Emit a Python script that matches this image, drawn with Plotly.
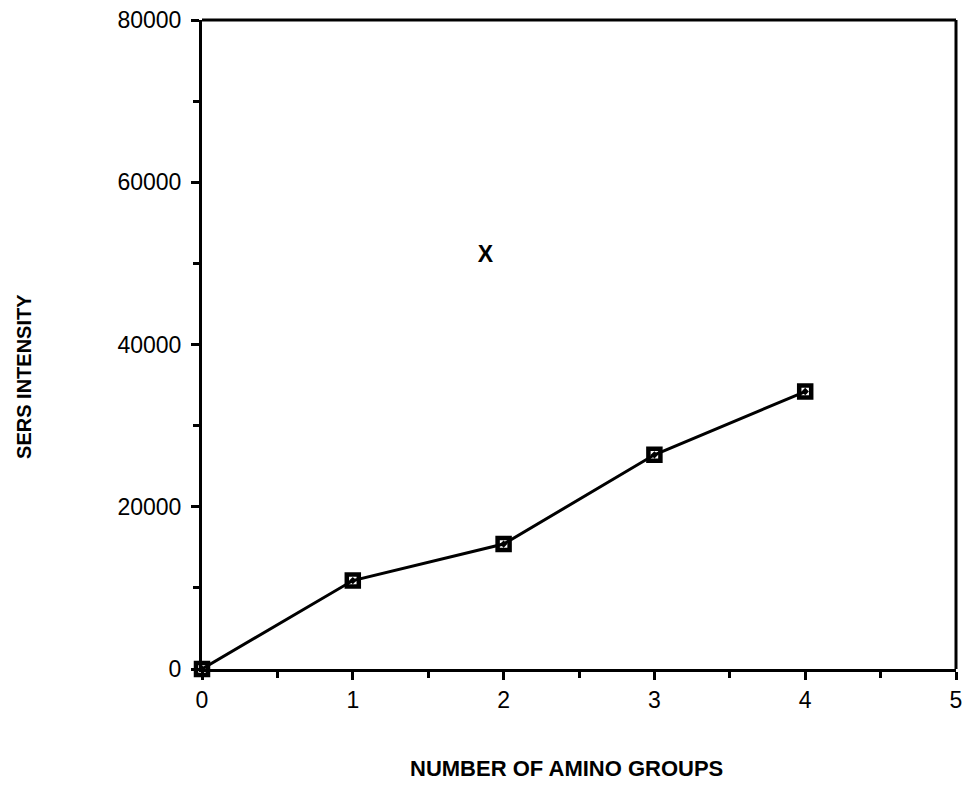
import plotly.graph_objects as go

amino_groups = [0, 1, 2, 3, 4]
sers_intensity = [0, 10900, 15400, 26400, 34200]
outlier_x = [1.88]
outlier_y = [50900]
outlier_label = ["X"]

x_ticks = [0, 1, 2, 3, 4, 5]
y_ticks = [0, 20000, 40000, 60000, 80000]
y_ticktext = ["0", "20000", "40000", "60000", "80000"]

fig = go.Figure()
fig.add_trace(go.Scatter(
    x=amino_groups, y=sers_intensity, mode="lines+markers",
    line=dict(color="black", width=3),
    marker=dict(symbol="square-open-dot", size=12, color="black", line=dict(width=4.5, color="black")),
    showlegend=False, cliponaxis=False,
))
fig.add_trace(go.Scatter(
    x=outlier_x, y=outlier_y, mode="text", text=outlier_label,
    textfont=dict(family="Liberation Sans, Arial", size=23, color="black"),
    texttemplate="<b>%{text}</b>", showlegend=False,
))

axis_font = dict(family="Liberation Sans, Arial", size=23, color="black")
fig.update_xaxes(
    range=[0, 5], tickvals=x_ticks, ticks="outside", ticklen=8, tickwidth=2.5,
    tickcolor="black", showline=True, linecolor="black", linewidth=3, mirror=False,
    showgrid=False, zeroline=False, tickfont=axis_font, ticklabelstandoff=0,
    minor=dict(tickvals=[0.5, 1.5, 2.5, 3.5, 4.5], ticks="outside", ticklen=6, tickwidth=2.5, tickcolor="black"),
)
fig.update_yaxes(
    range=[0, 80000], tickvals=y_ticks, ticktext=y_ticktext, ticks="outside", ticklen=8, tickwidth=2.5,
    tickcolor="black", showline=True, linecolor="black", linewidth=3, mirror=False,
    showgrid=False, zeroline=False, tickfont=axis_font, ticklabelstandoff=5,
    minor=dict(tickvals=[10000, 30000, 50000, 70000], ticks="outside", ticklen=6, tickwidth=2.5, tickcolor="black"),
)
# top and right frame lines
fig.add_shape(type="line", xref="paper", yref="paper", x0=0, x1=1, y0=1, y1=1, line=dict(color="black", width=3))
fig.add_shape(type="line", xref="paper", yref="paper", x0=1, x1=1, y0=0, y1=1, line=dict(color="black", width=3))

fig.add_annotation(text="<b>NUMBER OF AMINO GROUPS</b>", xref="paper", yref="paper",
                   x=0.484, y=0, xanchor="center", yanchor="middle", yshift=-99, showarrow=False,
                   font=dict(family="Liberation Sans, Arial", size=22, color="black"))
fig.add_annotation(text="<b>SERS INTENSITY</b>", xref="paper", yref="paper",
                   x=0, y=0.45, xanchor="center", yanchor="middle", xshift=-178, textangle=-90,
                   showarrow=False, font=dict(family="Liberation Sans, Arial", size=20, color="black"))

fig.update_layout(
    width=969, height=794,
    margin=dict(l=202, r=7, t=20, b=125),
    plot_bgcolor="white", paper_bgcolor="white",
)
fig.write_html("out.html")
